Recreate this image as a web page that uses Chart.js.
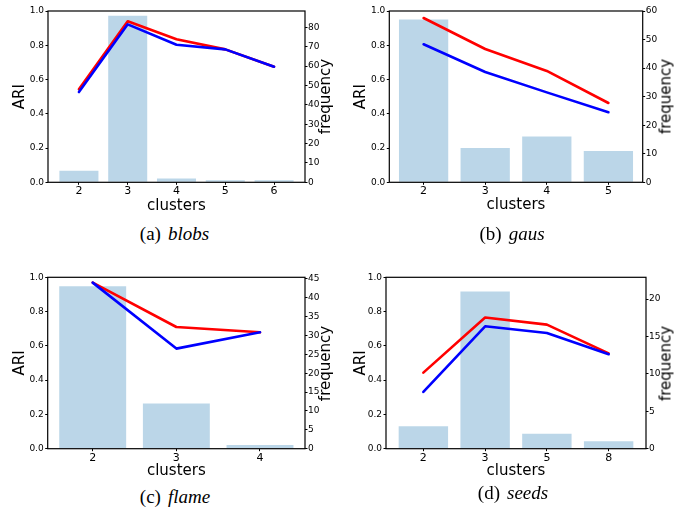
<!DOCTYPE html>
<html>
<head>
<meta charset="utf-8">
<script src="https://cdn.jsdelivr.net/npm/chart.js@4.4.0/dist/chart.umd.min.js"></script>
<style>
  body { margin: 0; background: #fff; width: 689px; height: 512px; position: relative; overflow: hidden; }
  canvas { position: absolute; }
  .cap { position: absolute; width: 200px; text-align: center; font-family: "Liberation Serif", serif;
         font-size: 19px; line-height: 19px; white-space: nowrap; color: #000; }
  .cap i { margin-left: 7px; }
  .freq { position: absolute; width: 100px; height: 15px; line-height: 15px; text-align: center;
          font-family: "DejaVu Sans", sans-serif; font-size: 15px; color: #000; transform: rotate(-90deg); }
</style>
</head>
<body>
<script>
// blobs
const blobsClusters = ['2', '3', '4', '5', '6'];
const blobsFreq = [6, 86, 2, 1, 1];
const blobsRed = [0.543, 0.940, 0.835, 0.776, 0.675];
const blobsBlue = [0.527, 0.922, 0.803, 0.776, 0.675];

// gaus
const gausClusters = ['2', '3', '4', '5'];
const gausFreq = [57, 12, 16, 11];
const gausRed = [0.959, 0.778, 0.650, 0.463];
const gausBlue = [0.806, 0.644, 0.525, 0.409];

// flame
const flameClusters = ['2', '3', '4'];
const flameFreq = [43, 12, 1];
const flameRed = [0.969, 0.710, 0.679];
const flameBlue = [0.969, 0.584, 0.679];

// seeds
const seedsClusters = ['2', '3', '5', '8'];
const seedsFreq = [3, 21, 2, 1];
const seedsRed = [0.444, 0.765, 0.724, 0.556];
const seedsBlue = [0.331, 0.714, 0.675, 0.551];

const panels = [
  { tag: '(a)', name: 'blobs', clusters: blobsClusters, freq: blobsFreq, red: blobsRed, blue: blobsBlue,
    freqMax: 88.4, freqStep: 10, xPad: 0.634,
    box: { left: 0, top: 0, width: 345, height: 218 }, area: { left: 48, right: 305, top: 11, bottom: 182.3 },
    ariX: 25, clustersY: 211.7, freqX: 324.6, capX: 174.5, capTop: 223.9 },
  { tag: '(b)', name: 'gaus', clusters: gausClusters, freq: gausFreq, red: gausRed, blue: gausBlue,
    freqMax: 60, freqStep: 10, xPad: 0.557,
    box: { left: 345, top: 0, width: 344, height: 218 }, area: { left: 389.3, right: 642.7, top: 11, bottom: 182.3 },
    ariX: 366.7, clustersY: 210.7, freqX: 665.6, capX: 512, capTop: 223.9 },
  { tag: '(c)', name: 'flame', clusters: flameClusters, freq: flameFreq, red: flameRed, blue: flameBlue,
    freqMax: 45.4, freqStep: 5, xPad: 0.538,
    box: { left: 0, top: 266, width: 345, height: 218 }, area: { left: 47.7, right: 305, top: 277.3, bottom: 448.7 },
    ariX: 25.5, clustersY: 476.7, freqX: 324.6, capX: 175, capTop: 487.4 },
  { tag: '(d)', name: 'seeds', clusters: seedsClusters, freq: seedsFreq, red: seedsRed, blue: seedsBlue,
    freqMax: 22.9, freqStep: 5, xPad: 0.605,
    box: { left: 345, top: 266, width: 344, height: 218 }, area: { left: 386, right: 646, top: 277.3, bottom: 448.7 },
    ariX: 366.7, clustersY: 476.7, freqX: 665.6, capX: 513, capTop: 483.4 }
];

// black box around the plot area
const frame = {
  id: 'frame',
  afterDatasetsDraw(chart) {
    const { ctx, chartArea: a } = chart;
    ctx.save();
    ctx.strokeStyle = '#000';
    ctx.lineWidth = 1.2;
    ctx.strokeRect(a.left, a.top, a.right - a.left, a.bottom - a.top);
    ctx.restore();
  }
};

const tickFont = { family: 'DejaVu Sans', size: 9 };
const titleFont = { family: 'DejaVu Sans', size: 15 };

function makePanel(p) {
  const cv = document.createElement('canvas');
  cv.width = p.box.width;
  cv.height = p.box.height;
  cv.style.left = p.box.left + 'px';
  cv.style.top = p.box.top + 'px';
  document.body.appendChild(cv);

  const xs = p.clusters.map((c, i) => i);
  const leftW = p.area.left - p.box.left;
  const rightW = p.box.left + p.box.width - p.area.right;
  const bottomH = p.box.top + p.box.height - p.area.bottom;
  const ariOffset = p.ariX - 5.2 - p.box.left;
  const clustersOffset = p.box.top + p.box.height - (p.clustersY - 5.2);

  new Chart(cv, {
    type: 'bar',
    data: {
      datasets: [
        { type: 'line', data: xs.map(i => ({ x: i, y: p.red[i] })), borderColor: '#ff0000', borderWidth: 2.6,
          pointRadius: 0, tension: 0, yAxisID: 'y', order: 2, borderCapStyle: 'round', borderJoinStyle: 'round' },
        { type: 'line', data: xs.map(i => ({ x: i, y: p.blue[i] })), borderColor: '#0000ff', borderWidth: 2.6,
          pointRadius: 0, tension: 0, yAxisID: 'y', order: 1, borderCapStyle: 'round', borderJoinStyle: 'round' },
        { type: 'bar', data: xs.map(i => ({ x: i, y: p.freq[i] })), backgroundColor: 'rgba(31,119,180,0.3)',
          borderWidth: 0, yAxisID: 'y1', order: 3, barPercentage: 0.8, categoryPercentage: 1 }
      ]
    },
    options: {
      responsive: false,
      animation: false,
      layout: { padding: { top: p.area.top - p.box.top, left: 0, right: 0, bottom: 0 } },
      plugins: { legend: { display: false }, tooltip: { enabled: false } },
      scales: {
        x: {
          type: 'linear', min: -p.xPad, max: xs.length - 1 + p.xPad, offset: false,
          grid: { offset: false, drawOnChartArea: false, tickLength: 2.5, tickColor: '#000' },
          border: { display: false },
          afterBuildTicks: ax => { ax.ticks = xs.map(v => ({ value: v })); },
          ticks: { callback: v => p.clusters[v], font: { family: 'DejaVu Sans', size: 11 }, color: '#000',
                   padding: 0, maxRotation: 0, autoSkip: false },
          title: { display: true, text: 'clusters', font: titleFont, color: '#000',
                   padding: { top: 0, bottom: clustersOffset - 9 } },
          afterFit: ax => { ax.height = bottomH; ax.paddingLeft = 0; ax.paddingRight = 0; }
        },
        y: {
          position: 'left', min: 0, max: 1,
          grid: { drawOnChartArea: false, tickLength: 2.5, tickColor: '#000' },
          border: { display: false },
          ticks: { stepSize: 0.2, callback: v => v.toFixed(1), font: tickFont, color: '#000', padding: 1.5 },
          title: { display: true, text: 'ARI', font: titleFont, color: '#000',
                   padding: { top: ariOffset - 9, bottom: 0 } },
          afterFit: ax => { ax.width = leftW; ax.paddingTop = 0; ax.paddingBottom = 0; }
        },
        y1: {
          position: 'right', min: 0, max: p.freqMax,
          grid: { drawOnChartArea: false, tickLength: 2.5, tickColor: '#000' },
          border: { display: false },
          ticks: { stepSize: p.freqStep, includeBounds: false, font: tickFont, color: '#000', padding: 0.5 },
          afterFit: ax => { ax.width = rightW; ax.paddingTop = 0; ax.paddingBottom = 0; }
        }
      }
    },
    plugins: [frame]
  });

  // right axis label, reading upwards like the left one
  const fq = document.createElement('div');
  fq.className = 'freq';
  fq.textContent = 'frequency';
  fq.style.left = (p.freqX - 50) + 'px';
  fq.style.top = ((p.area.top + p.area.bottom) / 2 - 7.5) + 'px';
  document.body.appendChild(fq);

  const cap = document.createElement('div');
  cap.className = 'cap';
  cap.innerHTML = p.tag + '<i>' + p.name + '</i>';
  cap.style.left = (p.capX - 100) + 'px';
  cap.style.top = p.capTop + 'px';
  document.body.appendChild(cap);
}

panels.forEach(makePanel);
</script>
</body>
</html>
